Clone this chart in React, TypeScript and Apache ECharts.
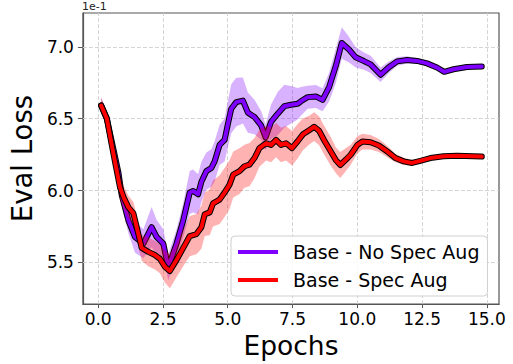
import React, { useEffect, useRef } from "react";
import * as echarts from "echarts";

// ---- Data (loss values shown in units of 1e-1) ----
const purpleEpochs = [0.115, 0.334, 0.526, 0.784, 0.911, 1.168, 1.421, 1.744, 2.063, 2.255, 2.513, 2.705, 3.023, 3.281, 3.534, 3.665, 3.857, 3.984, 4.176, 4.368, 4.495, 4.687, 4.879, 5.010, 5.136, 5.329, 5.586, 5.778, 6.032, 6.289, 6.462, 6.673, 6.930, 7.184, 7.442, 7.699, 7.826, 8.083, 8.402, 8.660, 8.913, 9.171, 9.401, 9.681, 9.939, 10.258, 10.515, 10.899, 11.218, 11.541, 11.925, 12.309, 12.693, 13.077, 13.358, 13.715, 14.230, 14.806];
const purpleLoss = [6.592, 6.501, 6.341, 6.123, 5.965, 5.791, 5.677, 5.630, 5.745, 5.677, 5.630, 5.464, 5.630, 5.791, 5.986, 5.997, 5.974, 6.061, 6.135, 6.157, 6.203, 6.317, 6.352, 6.466, 6.569, 6.615, 6.626, 6.542, 6.512, 6.453, 6.370, 6.478, 6.535, 6.587, 6.597, 6.604, 6.621, 6.650, 6.655, 6.631, 6.720, 6.867, 7.027, 6.981, 6.927, 6.901, 6.878, 6.806, 6.858, 6.899, 6.909, 6.902, 6.885, 6.856, 6.826, 6.844, 6.860, 6.863];
const purpleSpread = [0.055, 0.05, 0.05, 0.06, 0.07, 0.09, 0.11, 0.10, 0.14, 0.12, 0.10, 0.09, 0.10, 0.12, 0.15, 0.15, 0.14, 0.14, 0.13, 0.13, 0.14, 0.14, 0.15, 0.16, 0.17, 0.17, 0.16, 0.14, 0.12, 0.10, 0.09, 0.12, 0.15, 0.15, 0.13, 0.11, 0.10, 0.08, 0.08, 0.08, 0.10, 0.12, 0.11, 0.09, 0.07, 0.06, 0.06, 0.05, 0.04, 0.03, 0.025, 0.02, 0.02, 0.02, 0.015, 0.015, 0.012, 0.01];

const redEpochs = [0.115, 0.334, 0.526, 0.680, 0.845, 0.987, 1.168, 1.360, 1.679, 1.936, 2.190, 2.382, 2.574, 2.766, 3.023, 3.342, 3.534, 3.792, 3.984, 4.111, 4.303, 4.433, 4.687, 4.879, 5.071, 5.213, 5.455, 5.647, 5.839, 6.032, 6.224, 6.481, 6.673, 6.865, 7.057, 7.249, 7.480, 7.699, 7.902, 8.145, 8.337, 8.529, 8.721, 8.978, 9.171, 9.343, 9.555, 9.747, 10.004, 10.196, 10.515, 10.834, 11.157, 11.475, 11.794, 12.117, 12.436, 12.820, 13.331, 13.846, 14.806];
const redLoss = [6.592, 6.501, 6.315, 6.171, 6.020, 5.951, 5.883, 5.841, 5.601, 5.573, 5.551, 5.525, 5.470, 5.440, 5.516, 5.620, 5.683, 5.697, 5.745, 5.834, 5.848, 5.910, 5.937, 5.986, 6.041, 6.111, 6.135, 6.169, 6.180, 6.226, 6.295, 6.329, 6.317, 6.352, 6.317, 6.329, 6.295, 6.343, 6.391, 6.420, 6.444, 6.415, 6.350, 6.272, 6.212, 6.178, 6.214, 6.249, 6.317, 6.341, 6.336, 6.313, 6.272, 6.226, 6.203, 6.192, 6.207, 6.226, 6.238, 6.242, 6.236];
const redSpread = [0.055, 0.05, 0.06, 0.07, 0.08, 0.08, 0.08, 0.08, 0.09, 0.10, 0.10, 0.10, 0.11, 0.12, 0.12, 0.13, 0.14, 0.14, 0.15, 0.15, 0.16, 0.16, 0.17, 0.17, 0.17, 0.16, 0.16, 0.15, 0.15, 0.14, 0.13, 0.12, 0.12, 0.12, 0.12, 0.12, 0.12, 0.12, 0.11, 0.10, 0.10, 0.10, 0.10, 0.10, 0.09, 0.09, 0.08, 0.07, 0.06, 0.055, 0.05, 0.045, 0.04, 0.03, 0.025, 0.02, 0.015, 0.012, 0.01, 0.01, 0.01];

const xTicks = [0, 2.5, 5, 7.5, 10, 12.5, 15];
const yTicks = [5.5, 6.0, 6.5, 7.0];
const seriesNames = ["Base - No Spec Aug", "Base - Spec Aug"];

const FONT = "DejaVu Sans";

function band(xs: number[], mid: number[], spread: number[], fill: string, z: number) {
  const data = xs.map((x, i) => [x, mid[i] - spread[i], mid[i] + spread[i]]);
  return {
    type: "custom",
    silent: true,
    z,
    data,
    encode: { x: 0, y: [1, 2] },
    renderItem: (params: any, api: any) => {
      if (params.dataIndex !== 0) return null;
      const upper = data.map((d) => api.coord([d[0], d[2]]));
      const lower = data.map((d) => api.coord([d[0], d[1]])).reverse();
      return {
        type: "polygon",
        shape: { points: upper.concat(lower) },
        style: { fill },
      };
    },
  };
}

function line(name: string, xs: number[], ys: number[], color: string, width: number, z: number) {
  return {
    type: "line",
    name,
    z,
    silent: true,
    data: xs.map((x, i) => [x, ys[i]]),
    symbol: "none",
    itemStyle: { color },
    lineStyle: { color, width, join: "round", cap: "round" },
  };
}

export default function App() {
  const ref = useRef<HTMLDivElement>(null);
  useEffect(() => {
    if (!ref.current) return;
    const chart = echarts.init(ref.current, undefined, { renderer: "svg" });
    const gridLine = { color: "#cfcfcf", width: 0.9, type: [4, 2] as any };
    chart.setOption({
      animation: false,
      backgroundColor: "#ffffff",
      textStyle: { fontFamily: FONT },
      grid: {
        left: 81,
        top: 13,
        right: 14,
        bottom: 56,
        show: true,
        borderColor: "#555555",
        borderWidth: 1.2,
        backgroundColor: "transparent",
      },
      xAxis: {
        type: "value",
        min: -0.588,
        max: 15.47,
        name: "Epochs",
        nameLocation: "middle",
        nameGap: 26,
        nameTextStyle: { fontSize: 26.5, color: "#000", fontFamily: FONT },
        axisLine: { show: true, onZero: false, lineStyle: { color: "#555555", width: 1.2 } },
        axisTick: { show: true, length: 4, customValues: xTicks, lineStyle: { color: "#555555" } },
        axisLabel: {
          customValues: xTicks,
          fontSize: 17,
          color: "#000",
          margin: 6,
          fontFamily: FONT,
          formatter: (v: number) => v.toFixed(1),
        },
        splitLine: { show: false },
      },
      yAxis: {
        type: "value",
        min: 5.2095,
        max: 7.2356,
        name: "Eval Loss",
        nameLocation: "middle",
        nameGap: 42,
        nameTextStyle: { fontSize: 27.5, color: "#000", fontFamily: FONT },
        axisLine: { show: true, onZero: false, lineStyle: { color: "#555555", width: 1.2 } },
        axisTick: { show: true, length: 5, customValues: yTicks, lineStyle: { color: "#555555" } },
        axisLabel: {
          customValues: yTicks,
          fontSize: 17,
          color: "#000",
          margin: 9,
          fontFamily: FONT,
          formatter: (v: number) => v.toFixed(1),
        },
        splitLine: { show: false },
      },
      legend: {
        data: seriesNames,
        orient: "vertical",
        left: 231,
        top: 236,
        padding: [5, 8, 5, 7],
        itemGap: 6,
        itemWidth: 40,
        itemHeight: 4,
        icon: "rect",
        selectedMode: false,
        backgroundColor: "rgba(255,255,255,0.85)",
        borderColor: "#d0d0d0",
        borderWidth: 1,
        borderRadius: 4,
        textStyle: { fontSize: 19, color: "#000", fontFamily: FONT, lineHeight: 22, padding: [0, 0, 0, 10] },
      },
      graphic: [
        {
          type: "text",
          left: 82,
          top: 1,
          style: { text: "1e-1", fontSize: 11, fill: "#222", fontFamily: FONT },
        },
      ],
      series: [
        {
          type: "line",
          name: "grid",
          z: 1,
          silent: true,
          data: [],
          markLine: {
            z: 1,
            silent: true,
            symbol: "none",
            label: { show: false },
            lineStyle: gridLine,
            data: [
              ...xTicks.map((v) => ({ xAxis: v })),
              ...yTicks.map((v) => ({ yAxis: v })),
            ],
          },
        },
        band(purpleEpochs, purpleLoss, purpleSpread, "rgba(127,0,255,0.3)", 2),
        line("purple-edge", purpleEpochs, purpleLoss, "#000000", 6, 3),
        line(seriesNames[0], purpleEpochs, purpleLoss, "#7f00ff", 4, 4),
        band(redEpochs, redLoss, redSpread, "rgba(255,0,0,0.3)", 5),
        line("red-edge", redEpochs, redLoss, "#000000", 6, 6),
        line(seriesNames[1], redEpochs, redLoss, "#ff0000", 4, 7),
      ],
    });
    return () => chart.dispose();
  }, []);
  return (
    <div
      ref={ref}
      style={{ position: "fixed", left: 0, top: 0, width: 513, height: 364 }}
    />
  );
}
